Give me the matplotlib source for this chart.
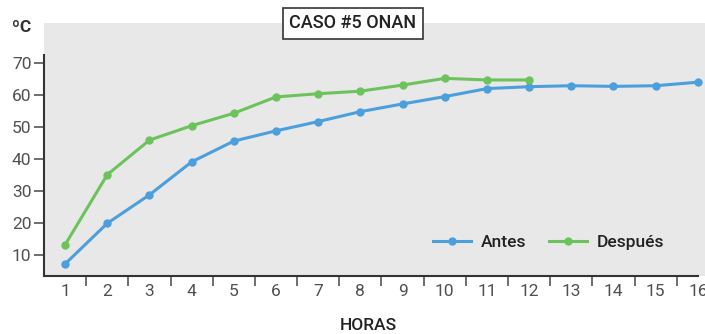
import numpy as np
import matplotlib.pyplot as plt
from matplotlib.ticker import FixedLocator

# Data
horas_antes = [1, 2, 3, 4, 5, 6, 7, 8, 9, 10, 11, 12, 13, 14, 15, 16]
antes = [7.1, 19.8, 28.7, 39.0, 45.5, 48.7, 51.6, 54.7, 57.1, 59.4, 61.9, 62.5, 62.8, 62.6, 62.8, 63.9]
horas_despues = [1, 2, 3, 4, 5, 6, 7, 8, 9, 10, 11, 12]
despues = [13.1, 35.0, 45.8, 50.3, 54.2, 59.3, 60.3, 61.1, 63.0, 65.1, 64.6, 64.6]
yticks = [10, 20, 30, 40, 50, 60, 70]

blue = '#4a9fdc'
green = '#6cc35c'
txt = '#505050'

plt.rcParams['font.family'] = ['Roboto', 'DejaVu Sans']

fig = plt.figure(figsize=(7.05, 3.34), dpi=100)
ax = fig.add_axes([44/705, 1 - 276/334, 1 - 44/705, (276 - 23)/334])
ax.set_facecolor('#e8e8e8')

ax.plot(horas_antes, antes, '-o', color=blue, lw=2.2, ms=5, label='Antes')
ax.plot(horas_despues, despues, '-o', color=green, lw=2.2, ms=5, label='Después')

ax.set_xlim(0.5, 16.17)
ax.set_ylim(3.34, 82.4)

for s in ['top', 'right']:
    ax.spines[s].set_visible(False)
ax.spines['left'].set_bounds(3.34, 72.4)
ax.spines['bottom'].set_bounds(0.5, 16)
for s in ['left', 'bottom']:
    ax.spines[s].set_color('#333333')
    ax.spines[s].set_linewidth(1.5)

ax.set_yticks(yticks)
ax.tick_params(axis='y', direction='out', length=7, width=1.2, color='#555555',
               labelsize=12.5, labelcolor=txt, pad=2)
ax.set_xticks(horas_antes)
ax.xaxis.set_minor_locator(FixedLocator(np.arange(1.5, 16, 1)))
ax.tick_params(axis='x', which='major', length=0, labelsize=12.5, labelcolor=txt, pad=6)
ax.tick_params(axis='x', which='minor', direction='out', length=7, width=1.2, color='#555555')

leg = ax.legend(loc='lower right', bbox_to_anchor=(0.962, 0.04), ncol=2, frameon=False,
                fontsize=12.5, handlelength=2.2, columnspacing=1.3, handletextpad=0.55)
for t in leg.get_texts():
    t.set_color('#222222')
    t.set_fontweight('medium')

fig.text(12/705, 1 - 28/334, 'ºC', fontsize=12.5, fontweight='bold', color='#333333',
         va='center', ha='left')
fig.text(368/705, 1 - 326/334, 'HORAS', fontsize=12.5, fontweight='medium', color='#222222',
         va='center', ha='center')
fig.text(353/705, 1 - 23.5/334, 'CASO #5 ONAN', fontsize=13, fontweight='medium', color='#222222',
         va='center', ha='center',
         bbox=dict(boxstyle='square,pad=0.38', facecolor='white', edgecolor='#333333', lw=1.2))

fig.savefig('out.png', dpi=100)
